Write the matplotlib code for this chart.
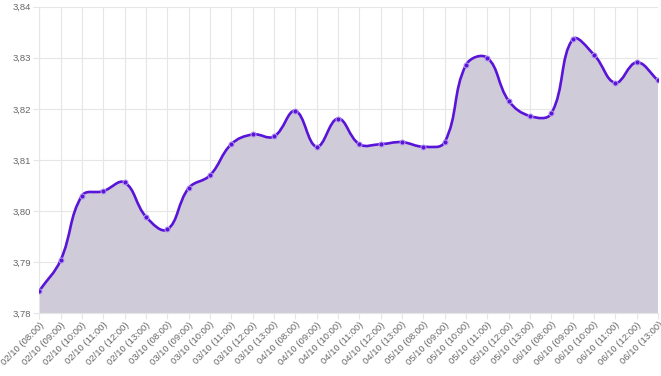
import matplotlib
matplotlib.use("Agg")
import matplotlib.pyplot as plt
import numpy as np
from matplotlib.path import Path
from matplotlib.patches import PathPatch
from matplotlib.ticker import FuncFormatter, MultipleLocator

labels = [
    "02/10 (08:00)", "02/10 (09:00)", "02/10 (10:00)", "02/10 (11:00)", "02/10 (12:00)", "02/10 (13:00)",
    "03/10 (08:00)", "03/10 (09:00)", "03/10 (10:00)", "03/10 (11:00)", "03/10 (12:00)", "03/10 (13:00)",
    "04/10 (08:00)", "04/10 (09:00)", "04/10 (10:00)", "04/10 (11:00)", "04/10 (12:00)", "04/10 (13:00)",
    "05/10 (08:00)", "05/10 (09:00)", "05/10 (10:00)", "05/10 (11:00)", "05/10 (12:00)", "05/10 (13:00)",
    "06/10 (08:00)", "06/10 (09:00)", "06/10 (10:00)", "06/10 (11:00)", "06/10 (12:00)", "06/10 (13:00)",
]
values = [
    3.7844, 3.7904, 3.8030, 3.8039, 3.8056, 3.7989,
    3.7964, 3.8045, 3.8070, 3.8131, 3.8150, 3.8146,
    3.8196, 3.8126, 3.8181, 3.8131, 3.8131, 3.8135,
    3.8126, 3.8135, 3.8286, 3.8300, 3.8216, 3.8186,
    3.8191, 3.8336, 3.8306, 3.8251, 3.8291, 3.8256,
]

W, H = 661, 376
fig = plt.figure(figsize=(W / 100, H / 100), dpi=100)
left, right, top, bottom = 39.3, 658.0, 6.7, 313.3
ax = fig.add_axes([left / W, 1 - bottom / H, (right - left) / W, (bottom - top) / H])

grid_c = "#e6e6e6"
line_c = "#5a14d8"
fill_c = "#cfcbd8"

n = len(values)
x = np.arange(n)
ax.set_xlim(0, n - 1)
ax.set_ylim(3.78, 3.84)

# Chart.js-style bezier spline (tension 0.4) computed in pixel space
pts = ax.transData.transform(np.column_stack([x, values]))
t = 0.4
cp_prev = pts.copy()
cp_next = pts.copy()
for i in range(n):
    p0 = pts[i - 1] if i > 0 else pts[i]
    p1 = pts[i]
    p2 = pts[i + 1] if i < n - 1 else pts[i]
    d01 = np.hypot(*(p1 - p0))
    d12 = np.hypot(*(p2 - p1))
    s = d01 + d12
    s01 = d01 / s if s else 0
    s12 = d12 / s if s else 0
    cp_prev[i] = p1 - t * s01 * (p2 - p0)
    cp_next[i] = p1 + t * s12 * (p2 - p0)

inv = ax.transData.inverted()
verts = [pts[0]]
codes = [Path.MOVETO]
for i in range(n - 1):
    verts += [cp_next[i], cp_prev[i + 1], pts[i + 1]]
    codes += [Path.CURVE4] * 3
verts_d = inv.transform(np.array(verts))

line_path = Path(verts_d, codes)
fill_verts = list(verts_d) + [[x[-1], 3.78], [x[0], 3.78], verts_d[0]]
fill_codes = codes + [Path.LINETO, Path.LINETO, Path.CLOSEPOLY]
ax.add_patch(PathPatch(Path(fill_verts, fill_codes), facecolor=fill_c, edgecolor="none", zorder=1))
ax.add_patch(PathPatch(line_path, facecolor="none", edgecolor=line_c, lw=1.9, zorder=3, capstyle="round"))
ax.plot(x, values, linestyle="none", marker="o", ms=3.6, mfc=line_c, mec="#b59af0", mew=0.7, zorder=4)

ax.set_xticks(x)
ax.set_xticklabels(labels, rotation=45, ha="right", va="top", rotation_mode="anchor")
ax.yaxis.set_major_locator(MultipleLocator(0.01))
ax.yaxis.set_major_formatter(FuncFormatter(lambda v, p: f"{v:.2f}".replace(".", ",")))

ax.grid(True, color=grid_c, lw=0.8, zorder=0)
ax.set_axisbelow(True)
for s in ax.spines.values():
    s.set_visible(False)
ax.spines["left"].set_visible(True)
ax.spines["left"].set_color(grid_c)
ax.spines["bottom"].set_visible(True)
ax.spines["bottom"].set_color(grid_c)
ax.tick_params(axis="both", length=4, width=0.8, color=grid_c, labelcolor="#666666",
               labelsize=6.8, pad=2)
ax.tick_params(axis="x", pad=1)
for lab in ax.get_xticklabels() + ax.get_yticklabels():
    lab.set_fontfamily("Liberation Sans")

fig.savefig("out.png", dpi=100)
